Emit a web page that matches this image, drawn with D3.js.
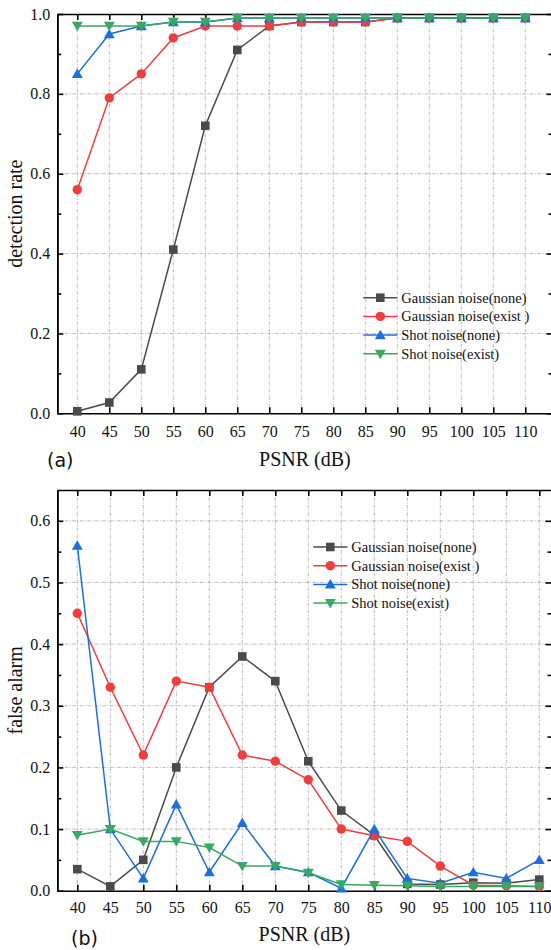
<!DOCTYPE html>
<html>
<head>
<meta charset="utf-8">
<script src="https://cdn.jsdelivr.net/npm/d3@7"></script>
<style>
html,body{margin:0;padding:0;background:#fff;}
svg{display:block;font-family:"Liberation Serif","Times New Roman",serif;}
</style>
</head>
<body>
<svg id="chart" width="551" height="950"></svg>
<script>
// ---------- DATA ----------
const psnr = [40,45,50,55,60,65,70,75,80,85,90,95,100,105,110];
const seriesNames = ["Gaussian noise(none)","Gaussian noise(exist )","Shot noise(none)","Shot noise(exist)"];

// (a) detection rate
const detGaussNone  = [0.005,0.027,0.11,0.41,0.72,0.91,0.97,0.98,0.98,0.98,0.99,0.99,0.99,0.99,0.99];
const detGaussExist = [0.56,0.79,0.85,0.94,0.97,0.97,0.97,0.98,0.98,0.98,0.99,0.99,0.99,0.99,0.99];
const detShotNone   = [0.85,0.95,0.97,0.98,0.98,0.99,0.99,0.99,0.99,0.99,0.99,0.99,0.99,0.99,0.99];
const detShotExist  = [0.97,0.97,0.97,0.98,0.98,0.99,0.99,0.99,0.99,0.99,0.99,0.99,0.99,0.99,0.99];

// (b) false alarm
const faGaussNone  = [0.035,0.007,0.05,0.20,0.33,0.38,0.34,0.21,0.13,0.09,0.011,0.01,0.013,0.012,0.018];
const faGaussExist = [0.45,0.33,0.22,0.34,0.33,0.22,0.21,0.18,0.10,0.089,0.08,0.04,0.009,0.008,0.007];
const faShotNone   = [0.56,0.10,0.02,0.14,0.03,0.11,0.04,0.03,0.004,0.10,0.02,0.012,0.03,0.02,0.05];
const faShotExist  = [0.09,0.10,0.08,0.08,0.07,0.04,0.04,0.029,0.01,0.009,0.008,0.007,0.007,0.007,0.007];

const yTicksA = [0.0,0.2,0.4,0.6,0.8,1.0];
const yTicksB = [0.0,0.1,0.2,0.3,0.4,0.5,0.6];

// ---------- STYLE ----------
const colors = ["#4a4a4a","#ef3e3e","#1d6fdc","#38a862"];
const symbols = [d3.symbolSquare, d3.symbolCircle, d3.symbolTriangle, d3.symbolTriangle];
const symSizes = [74, 70, 52, 52];
const symRot = [0,0,0,180];
const serif = "Liberation Serif";

const svg = d3.select("#chart");

function drawPanel(opts){
  const {left,right,top,bottom,xDomain,yDomain,yTicks,yMinor,gridY,data,ylabel,tag,tagX,tagY,legX,legY,xlabY,tickLabY} = opts;
  const g = svg.append("g");
  const x = d3.scaleLinear().domain(xDomain).range([left,right]);
  const y = d3.scaleLinear().domain(yDomain).range([bottom,top]);

  // grid
  const grid = g.append("g").attr("stroke","#a8a8a8").attr("stroke-width",0.8)
    .attr("stroke-dasharray","3.5,1.5,1,1.5").attr("fill","none");
  psnr.forEach(v=>{
    grid.append("line").attr("x1",x(v)).attr("x2",x(v)).attr("y1",top).attr("y2",bottom);
  });
  gridY.forEach(v=>{
    grid.append("line").attr("x1",left).attr("x2",right).attr("y1",y(v)).attr("y2",y(v));
  });

  // axes
  const axB = d3.axisBottom(x).tickValues(psnr).tickSize(-6).tickSizeOuter(0).tickPadding(tickLabY);
  const axT = d3.axisTop(x).tickValues(psnr).tickSize(-6).tickSizeOuter(0).tickFormat("");
  const axL = d3.axisLeft(y).tickValues(yTicks).tickSize(-6).tickSizeOuter(0).tickPadding(7).tickFormat(d3.format(".1f"));
  const axLm = d3.axisLeft(y).tickValues(yMinor).tickSize(-4).tickSizeOuter(0).tickFormat("");
  const axR = d3.axisRight(y).tickValues(yTicks).tickSize(-6).tickSizeOuter(0).tickFormat("");
  const axRm = d3.axisRight(y).tickValues(yMinor).tickSize(-4).tickSizeOuter(0).tickFormat("");

  const styleAxis = sel => {
    sel.attr("font-family",serif).attr("font-size",16);
    sel.selectAll("path").attr("stroke","#000").attr("stroke-width",1.6);
    sel.selectAll("line").attr("stroke","#000").attr("stroke-width",1.6);
    sel.selectAll("text").attr("font-family",serif).attr("font-size",16).attr("fill","#111");
  };
  g.append("g").attr("transform",`translate(0,${bottom})`).call(axB).call(styleAxis);
  g.append("g").attr("transform",`translate(0,${top})`).call(axT).call(styleAxis);
  g.append("g").attr("transform",`translate(${left},0)`).call(axL).call(styleAxis);
  g.append("g").attr("transform",`translate(${left},0)`).call(axLm).call(styleAxis);
  g.append("g").attr("transform",`translate(${right},0)`).call(axR).call(styleAxis);
  g.append("g").attr("transform",`translate(${right},0)`).call(axRm).call(styleAxis);

  // series
  const line = d3.line().x((d,i)=>x(psnr[i])).y(d=>y(d));
  data.forEach((arr,k)=>{
    const s = g.append("g");
    s.append("path").datum(arr).attr("d",line).attr("fill","none")
      .attr("stroke",colors[k]).attr("stroke-width",1.5);
    s.selectAll("path.m").data(arr).enter().append("path").attr("class","m")
      .attr("d",d3.symbol().type(symbols[k]).size(symSizes[k]))
      .attr("transform",(d,i)=>`translate(${x(psnr[i])},${y(d)+(k===2?1:(k===3?-1:0))}) rotate(${symRot[k]})`)
      .attr("fill",colors[k]);
  });

  // legend
  const lg = g.append("g");
  seriesNames.forEach((n,k)=>{
    const yy = legY + k*18.7;
    lg.append("line").attr("x1",legX).attr("x2",legX+34).attr("y1",yy).attr("y2",yy)
      .attr("stroke",colors[k]).attr("stroke-width",1.5);
    lg.append("path").attr("d",d3.symbol().type(symbols[k]).size(symSizes[k]))
      .attr("transform",`translate(${legX+17},${yy+(k===2?1:(k===3?-1:0))}) rotate(${symRot[k]})`)
      .attr("fill",colors[k]);
    lg.append("text").attr("x",legX+38).attr("y",yy).attr("dy","0.35em")
      .attr("font-family",serif).attr("font-size",14.5).attr("fill","#111").text(n);
  });

  // axis titles
  g.append("text").attr("x",(left+right)/2).attr("y",xlabY).attr("text-anchor","middle")
    .attr("font-family",serif).attr("font-size",20).attr("fill","#111").text("PSNR (dB)");
  g.append("text").attr("transform",`translate(16,${(top+bottom)/2}) rotate(-90)`)
    .attr("text-anchor","middle").attr("dy","0.32em")
    .attr("font-family",serif).attr("font-size",20).attr("fill","#111").text(ylabel);
  g.append("text").attr("x",tagX).attr("y",tagY)
    .attr("font-family","DejaVu Sans").attr("font-size",19).attr("fill","#111").text(tag);
}

drawPanel({
  left:57.3,right:552.5,top:14,bottom:413.3,
  xDomain:[36.875,114.25],yDomain:[0,1],
  yTicks:yTicksA,yMinor:[0.1,0.3,0.5,0.7,0.9],gridY:[0.2,0.4,0.6,0.8],
  data:[detGaussNone,detGaussExist,detShotNone,detShotExist],
  ylabel:"detection rate",tag:"(a)",tagX:47,tagY:467,
  legX:363.3,legY:297.7,xlabY:466,tickLabY:12
});
drawPanel({
  left:57.3,right:551.5,top:490,bottom:890.7,
  xDomain:[36.97,111.85],yDomain:[0,0.65],
  yTicks:yTicksB,yMinor:[0.05,0.15,0.25,0.35,0.45,0.55],gridY:[0.1,0.2,0.3,0.4,0.5,0.6],
  data:[faGaussNone,faGaussExist,faShotNone,faShotExist],
  ylabel:"false alarm",tag:"(b)",tagX:71,tagY:945,
  legX:313.3,legY:547,xlabY:941,tickLabY:11
});
</script>
</body>
</html>
